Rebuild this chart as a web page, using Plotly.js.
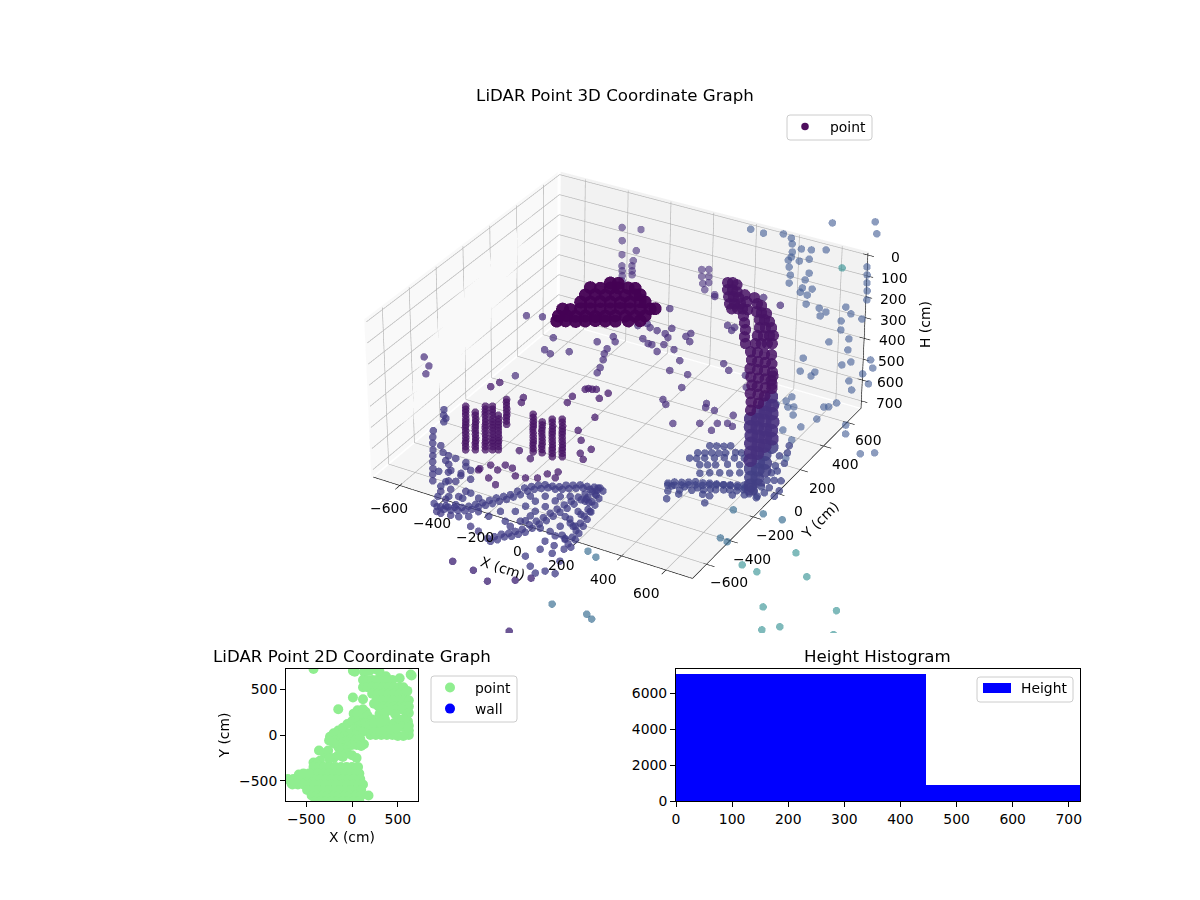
<!DOCTYPE html>
<html><head><meta charset="utf-8"><script src="https://cdn.plot.ly/plotly-3.0.1.min.js"></script>
<style>html,body{margin:0;background:#fff}</style></head><body><div id="g" style="width:1200px;height:900px"></div>
<script>
const F='DejaVu Sans';
// ---------- 3D point groups (X, Y, H in cm) ----------
const blobX=[-146,-119,-197,-163,-129,-102,-68,-45,-191,-157,-123,-89,-55,-22,-5,-184,-151,-117,-83,-49,-16,18,35,-222,-195,-161,-128,-94,-60,-26,7,41,75,92,-213,-186,-155,-122,-88,-54,-20,14,47,81,-202,-172,-138,-105,-71,-37,-3,41,81];
const blobY=[184,201,110,131,152,169,190,205,56,77,98,119,140,161,172,2,23,44,65,86,107,128,139,-80,-64,-42,-21,0,21,42,63,84,105,116,-133,-116,-97,-76,-55,-34,-13,8,30,51,-168,-149,-128,-107,-86,-65,-44,-16,9];
const blobH=[100,102,98,101,100,99,100,102,100,98,101,100,103,100,99,100,101,98,100,102,100,99,101,100,102,99,100,101,100,98,100,103,100,99,100,98,101,100,102,100,99,100,101,100,100,99,102,100,98,100,101,100,99];
const upperX=[-220,-149,-197,-109,-158,-100,-135,-118,-101,-85,-101,-84,-71,155,178,205,232,179,202,222,282];
const upperY=[425,452,382,336,307,293,263,232,201,169,284,253,228,395,351,309,275,410,366,328,265];
const upperH=[0,0,30,20,40,40,60,60,60,60,60,60,60,50,50,50,50,50,50,50,50];
const midX=[-460,-402,-296,-286,-253,-196,-134,-96,-73,-77,-70,-54,-38,-31,-299,-124,3,33,76,70,93,150,157,180,11,45,62,102,102,153,209,208,282,305,281,307,442,452,492,-49,-24,-1,116,285,368,255,286,286,368,408,481,524,394,485,572,579,545,548,606,-671,-625,-609];
const midY=[63,90,-18,-112,-125,-72,49,115,87,26,-11,-51,-107,-145,-336,422,410,245,290,243,224,269,298,245,165,145,146,114,172,162,105,22,34,-59,-174,-199,-107,-134,-134,236,268,249,580,677,663,426,403,428,179,147,151,78,-303,-246,-125,-187,-209,-265,-196,-411,-457,-513];
const midH=[300,300,300,300,300,300,300,300,300,300,300,300,300,300,300,300,300,300,300,300,300,300,300,300,300,300,300,300,300,300,300,300,300,300,300,300,300,300,300,300,300,300,300,300,300,300,300,300,300,300,300,300,300,300,300,300,300,300,300,300,300,300];
const colX=[-312,-314,-311,-313,-312,-310,-313,-312,-279,-281,-278,-280,-279,-277,-280,-245,-247,-244,-246,-245,-243,-246,-245,-221,-223,-220,-222,-221,-219,-222,-221,-201,-203,-200,-202,-201,-199,-216,-218,-215,-217,-216,-76,-78,-75,-77,-76,-74,-77,-43,-45,-42,-44,-43,-41,5,3,6,4,5,7,4,39,37,40,38,39,41,38,
 -313,-311,-312,-314,-311,-313,-312,-280,-278,-279,-281,-278,-280,-246,-244,-245,-247,-244,-246,-245,-222,-220,-221,-223,-220,-222,-221,-202,-200,-201,-203,-200,-202,-217,-215,-216,-218,-77,-75,-76,-78,-75,-77,-44,-42,-43,-45,-42,4,6,5,3,6,4,38,40,39,37,40,38];
const colY=[-736,-734,-737,-735,-736,-738,-735,-736,-715,-713,-716,-714,-715,-717,-714,-694,-692,-695,-693,-694,-696,-693,-694,-679,-677,-680,-678,-679,-681,-678,-679,-666,-664,-667,-665,-666,-668,-568,-566,-569,-567,-568,-606,-604,-607,-605,-606,-608,-605,-593,-591,-594,-592,-593,-595,-596,-594,-597,-595,-596,-598,-595,-575,-573,-576,-574,-575,-577,-574,
 -735,-737,-736,-734,-737,-735,-736,-714,-716,-715,-713,-716,-714,-693,-695,-694,-692,-695,-693,-694,-678,-680,-679,-677,-680,-678,-679,-665,-667,-666,-664,-667,-665,-567,-569,-568,-566,-605,-607,-606,-604,-607,-605,-592,-594,-593,-591,-594,-595,-597,-596,-594,-597,-595,-574,-576,-575,-573,-576,-574];
const colH=[430,400,370,340,310,280,250,220,430,400,370,340,310,280,250,430,400,370,340,310,280,250,220,430,400,370,340,310,280,250,220,430,400,370,340,310,280,370,340,310,280,250,430,400,370,340,310,280,250,430,400,370,340,310,280,430,400,370,340,310,280,250,430,400,370,340,310,280,250,
 415,385,355,325,295,265,235,415,385,355,325,295,265,415,385,355,325,295,265,235,415,385,355,325,295,265,235,415,385,355,325,295,265,355,325,295,265,415,385,355,325,295,265,415,385,355,325,295,415,385,355,325,295,265,415,385,355,325,295,265];
const nearX=[-267,-227,-217,-183,-147,-106,-65,-45,-5,-15,-231,-292,-485,-468,-338,-328,-175,-172,-155,-147,-131,-117,-77,-64,-29,-43,0,64,40,70,-176,-112,-251,-144];
const nearY=[-608,-624,-577,-581,-624,-615,-590,-544,-552,-509,-693,-664,-195,-150,-194,-230,-84,-133,-13,-1,2,10,-40,11,-168,-285,-341,-376,-424,-456,-535,-562,-731,-799];
const nearH=[560,560,560,560,560,560,560,560,560,560,560,560,500,500,500,500,500,500,500,500,500,500,500,500,500,500,500,500,500,500,500,500,500,500];
const leftX=[-494,-496,-493,-495,-494,-492,-495,-494,-493,-396,-398,-395,-440,-442,-439,-441,-446,-403,-419,-428,-437,-443,-385,-361,-368,-393,-373,-333,-229,-186,-462,-435,-387,-345,-412,-361,-528,-498,-601];
const leftY=[-672,-670,-673,-671,-672,-674,-671,-672,-670,-763,-761,-764,-639,-637,-640,-638,-695,-734,-661,-601,-539,-486,-556,-642,-689,-829,-833,-824,-851,-865,-622,-588,-592,-631,-673,-684,-539,-577,-358];
const leftH=[680,650,620,590,560,530,500,470,440,310,280,250,680,640,600,560,700,700,700,700,700,700,700,700,700,700,700,700,700,700,600,600,600,600,600,600,600,600,600];
const floorAX=[-429,-396,-369,-346,-322,-301,-285,-268,-251,-234,-216,-200,-186,-172,-155,-135,-112,-84,-60,-41,-17,7,34,61,84,-132,-115,-98,-77,-61,-44,-33,-23,-12,-2,8,19,29,40,53,67,77,94,103,113,123,133,142,152,161,164,73,86,99,111,117,-94,-77,-59,14,57,75,85,-25,-42,-92,-109,-127,56,106,146,172,213,190,137,83,
 -409,-376,-349,-326,-302,-281,-265,-248,-231,-214,-196,-180,-166,-152,-135,-115,-92,-64,-40,-21,3,27,54,81,104,-112,-95,-78,-57,-41,-24,-13,-3,8,18,28,39,49,60,73,87,114,123,133,143,153,162,172,181,93,106,119,131,
 -519,-462,-462,-402,-352,-349,-338,-295,-252,-201,-268,-302,-379,-439,-177,59,126,91,73,134,-59,-60,-128,126,76,10,-24,-75,-125];
const floorAY=[-784,-789,-780,-765,-750,-730,-703,-675,-648,-621,-594,-566,-532,-498,-472,-451,-436,-427,-413,-392,-377,-362,-354,-345,-338,-890,-863,-836,-814,-787,-760,-720,-680,-640,-601,-561,-521,-481,-442,-408,-374,-342,-391,-443,-496,-548,-600,-653,-704,-757,-797,-437,-530,-622,-713,-793,-767,-714,-662,-716,-714,-662,-597,-515,-567,-557,-609,-662,-922,-975,-1008,-974,-966,-881,-847,-848,
 -797,-802,-793,-778,-763,-743,-716,-688,-661,-634,-607,-579,-545,-511,-485,-464,-449,-440,-426,-405,-390,-375,-367,-358,-351,-903,-876,-849,-827,-800,-773,-733,-693,-653,-614,-574,-534,-494,-455,-421,-387,-404,-456,-509,-561,-613,-666,-717,-770,-450,-543,-635,-726,
 -574,-622,-664,-710,-745,-692,-644,-658,-740,-750,-793,-814,-778,-733,-694,-588,-630,-734,-787,-732,-620,-703,-746,-504,-452,-453,-474,-505,-537];
const floorAH=[700,702,698,700,701,699,700,703,700,698,700,702,700,699,701,700,698,700,702,700,700,699,701,700,700,700,702,699,700,701,700,698,700,702,700,700,699,701,700,700,702,700,700,699,701,700,700,702,700,698,700,700,701,699,700,702,700,700,698,700,701,700,700,699,702,700,700,701,700,700,699,700,702,700,701,700,
 701,700,699,700,702,700,698,700,701,700,700,699,702,700,700,701,698,700,700,702,700,699,700,701,700,700,702,698,700,701,700,700,699,702,700,700,701,700,698,700,700,702,700,699,701,700,700,698,700,702,700,700,701,
 700,702,698,700,701,700,699,700,702,700,700,701,698,700,700,702,700,699,700,701,700,698,700,702,700,700,701,700,699];
const floorBX=[298,317,341,365,388,416,439,466,493,520,547,574,600,321,368,415,462,510,557,610,644,658,658,652,597,556,317,341,365,388,300,324,347,371,394,428,448,289,313,340,373,407,441,475,346,373,400,440,481,373,406,440,474,508,324,346,371,452,489,482,647,629,675,630,604,702,702,587,587,
 304,327,351,375,398,422,445,469,493,516,540,564,361,402,442,483,530,577,617,628,628,616,606];
const floorBY=[-164,-143,-128,-114,-99,-90,-75,-67,-59,-50,-41,-33,-25,-174,-153,-132,-111,-90,-68,-60,-56,-22,20,74,-77,-102,157,171,186,201,87,102,117,132,146,167,180,38,53,70,91,112,133,154,17,33,50,76,101,-33,-12,9,30,51,-214,-266,-210,-159,-211,-157,-70,143,88,202,277,22,-20,325,241,
 -177,-162,-147,-133,-118,-103,-88,-74,-59,-44,-29,-15,-183,-157,-132,-107,-77,-48,-31,9,59,118,170];
const floorBH=[700,700,702,700,699,700,701,700,700,698,700,700,702,700,699,700,701,700,700,700,702,700,700,698,700,701,700,700,702,700,699,700,700,701,700,698,700,700,702,700,700,699,700,701,700,700,700,698,700,702,700,700,701,700,700,699,700,702,700,700,700,701,700,698,700,700,702,700,700,
 700,701,700,699,700,702,700,700,698,700,701,700,700,702,700,699,700,700,701,700,698,700,700];
const wallTopX=[252,269,290,275,292,313,302,318,339,328,345,365,352,372,389,350,379,409,415,442,468,488,514,393,422,443,446,466,486,482,499,523,509,529,550,528,549,569,582,548,568,588,605,600,603,598,601,604,599,602,600,598,602,600,603,599,601,604,600,602,599,601,603,600,598,601,603,599,600,602,604];
const wallTopY=[433,443,439,389,399,395,347,357,362,305,315,328,278,291,301,393,354,306,259,217,176,129,89,395,364,360,312,316,321,268,279,276,218,231,243,164,176,189,198,110,122,135,145,-30,-28,-32,-30,-27,-31,-29,-30,32,28,30,31,29,33,30,88,91,90,92,89,90,152,149,150,148,151,150,153];
const wallTopH=[100,100,100,100,100,100,100,100,100,100,100,100,100,100,100,100,100,100,100,100,100,100,100,100,100,100,100,100,100,100,100,100,100,100,100,100,100,100,100,100,100,100,100,40,80,120,160,200,240,280,320,80,120,160,200,240,280,320,120,160,200,240,280,320,160,200,240,280,320,300,260];
const wallMidX=[601,599,603,600,602,598,603,600,598,601,604,599,600,602,599,603,601,600,598,602,600,603,599,601];
const wallMidY=[-31,-29,-30,-28,-32,-30,29,31,30,32,28,30,89,91,90,88,92,90,151,149,150,152,148,150];
const wallMidH=[360,400,440,480,520,560,360,400,440,480,520,560,360,400,440,480,520,560,360,400,440,480,520,560];
const wallLowX=[600,602,599,601,603,600,598,601,600,602,599,600];
const wallLowY=[-30,-31,-29,-30,30,31,29,32,90,89,91,150];
const wallLowH=[600,640,680,700,600,640,680,715,600,640,680,600];
const rightX=[243,300,370,411,433,481,460,473,518,568,500,642,687,763,790,816,843,872,514,473,541,499,530,552,587,596,650,613,620,653,679,737,773,766,824,864,918,854,883,940,882,973,848,1002,1023,1083,1117,881,934,934,1079,1102,1155,1118,908,932,938,958,978,1002,1080,1096,1110,1096,1068,1017,1080,1120,1214,1243,1359,1404];
const rightY=[646,648,685,676,641,629,591,557,644,675,857,954,883,655,605,555,505,448,549,532,582,490,442,390,494,443,401,387,356,353,294,296,286,249,359,327,318,262,205,166,105,95,-50,-12,26,80,34,-138,-113,-146,-97,-24,-74,-148,-395,-355,-317,-389,-376,-428,-313,-302,-261,-403,-486,-543,-587,-713,-380,-436,-529,-493];
const rightH=[-30,-30,-30,-30,-30,-30,-30,-30,-30,-30,-30,-30,-30,-30,-30,-30,-30,-30,-30,-30,-30,-30,-30,-30,-30,-30,-30,-30,-30,-30,-30,-30,-30,-30,-30,-30,-30,-30,-30,-30,-30,-30,-30,-30,-30,-30,-30,-30,-30,-30,-30,-30,-30,-30,-30,-30,-30,-30,-30,-30,-30,-30,-30,-30,-30,-30,-30,-30,-30,-30,-30,-30];
const blueX=[609,724,658,694,808,252,299,305,456,489];
const blueY=[-194,-156,-397,-407,-153,-759,-780,-1166,-1156,-1176];
const blueH=[700,700,700,700,700,700,700,700,700,700];
const tealX=[964,821,894,1080,1031,1293,1103,1154,1362,682];
const tealY=[-331,-520,-532,-458,-739,-608,-885,-828,-764,596];
const tealH=[700,700,700,700,700,700,700,700,700,-30];
const strayX=[-174,-74,10,101,148,249];
const strayY=[-1108,-1120,-1159,-1094,-1048,-1426];
const strayH=[700,700,700,700,700,700];
// ---------- 2D scatter ----------
const pX=[-420,10,30,130,190,250,300,370,520,640,650,120,170,220,270,320,380,440,120,170,220,280,340,400,460,520,560,220,280,340,400,460,520,580,604,270,330,390,450,510,570,620,290,340,400,460,520,580,620,10,120,-150,18,60,120,150,300,360,420,480,540,620,590,610,620,620,620,220,280,340,400,460,520,570,200,260,320,380,440,500,560,250,310,370,430,490,550,610,-240,-200,-150,-100,-50,0,50,100,150,130,80,30,-30,-80,-130,-190,80,40,130,180,-10,-70,-120,40,90,130,100,50,0,-50,-100,-150,-200,-250,-360,-300,-260,-50,0,50,-100,-150,-200,-250,-420,-350,-380,-420,-360,-300,-240,-180,-120,-60,0,66,-430,-370,-310,-250,-190,-130,-70,-10,50,80,-580,-700,-640,-580,-520,-460,-400,-340,-280,-220,-160,-100,-40,20,90,-650,-590,-530,-470,-410,-350,-290,-230,-170,-110,-50,10,70,120,-490,-430,-370,-310,-250,-190,-130,-70,-10,50,100,-440,-380,-320,-260,-200,-140,-80,-20,40,100,180,-400,-340,-280,-220,-160,-100,-40,20,80,60,110,170,220,150,190,240,-530,-470,-610,-660,240,360,470,300];
const pY=[720,700,690,690,700,720,690,640,620,660,650,600,600,600,600,600,600,600,520,520,520,520,520,520,520,520,520,450,450,450,450,450,450,450,481,380,380,380,380,380,380,380,310,310,310,310,310,310,310,410,390,280,233,270,280,250,230,240,270,280,280,240,200,150,100,50,0,60,70,90,110,130,170,170,0,0,0,0,0,-10,-10,40,40,50,60,70,90,80,-20,20,50,80,120,150,180,200,180,130,100,60,20,-10,-40,-60,40,0,40,50,-40,-70,-100,-50,-40,-100,-120,-110,-110,-130,-150,-130,-90,-60,-170,-200,-170,-200,-220,-250,-240,-220,-250,-260,-300,-280,-320,-350,-350,-350,-350,-350,-350,-350,-350,-350,-420,-420,-420,-420,-420,-420,-420,-420,-420,-420,-430,-480,-480,-490,-490,-480,-480,-480,-480,-480,-480,-480,-480,-480,-480,-540,-540,-540,-540,-540,-540,-540,-540,-540,-540,-540,-540,-540,-540,-600,-600,-600,-600,-600,-600,-600,-600,-600,-600,-600,-660,-660,-660,-660,-660,-660,-660,-660,-660,-660,-660,-720,-720,-720,-720,-720,-720,-720,-720,-720,230,230,210,170,130,110,130,-420,-420,-530,-530,340,170,230,140];
// ---------- histogram ----------
const histEdges=[0,445,720];
const histCounts=[7050,870];
// ---------- tick labels ----------
const xyTicks=[-600,-400,-200,0,200,400,600];
const hTicks=[0,100,200,300,400,500,600,700];
const lbl=v=>String(v).replace('-','\u2212');
// 3D box outline, floor and ceiling corners (front-left, front-right, back-right, back-left), in cm
const floorCx=[-736,684,693,-621], floorCy=[-722,-684,737,641];
const ceilCx=[-783,684,700,-613], ceilCy=[-693,-684,783,636];
const bil=(c,u,v)=>c[0]*(1-u)*(1-v)+c[1]*u*(1-v)+c[2]*u*v+c[3]*(1-u)*v;
const P=(u,v,w)=>[bil(ceilCx,u,v)*(1-w)+bil(floorCx,u,v)*w,bil(ceilCy,u,v)*(1-w)+bil(floorCy,u,v)*w,720*w];
const fx=v=>(v+720)/1440, fh=h=>(h+10)/745;
function segs(list,color,width){const x=[],y=[],z=[];list.forEach(s=>{const a=P(...s[0]),b=P(...s[1]);x.push(a[0],b[0],null);y.push(a[1],b[1],null);z.push(a[2],b[2],null)});
 return {type:'scatter3d',mode:'lines',x,y,z,line:{color,width},showlegend:false,hoverinfo:'skip'}}
function pane(c,color){const q=c.map(s=>P(...s));return {type:'mesh3d',x:q.map(p=>p[0]),y:q.map(p=>p[1]),z:q.map(p=>p[2]),i:[0,0],j:[1,2],k:[2,3],color,flatshading:true,lighting:{ambient:1,diffuse:0,specular:0,fresnel:0,roughness:1},hoverinfo:'skip',showlegend:false}}
const gridL=[];
xyTicks.forEach(t=>{const u=fx(t);
 gridL.push([[u,0,1],[u,1,1]],[[u,1,1],[u,1,0]],[[0,u,1],[1,u,1]],[[0,u,1],[0,u,0]]);});
hTicks.forEach(t=>{const w=fh(t);gridL.push([[0,0,w],[0,1,w]],[[0,1,w],[1,1,w]]);});
const axisL=[[[0,0,1],[1,0,1]],[[1,0,1],[1,1,1]],[[1,1,1],[1,1,0]]];
xyTicks.forEach(t=>{const u=fx(t);axisL.push([[u,-.025,1],[u,.012,1]],[[.988,u,1],[1.025,u,1]]);});
hTicks.forEach(t=>{const w=fh(t);axisL.push([[.985,1,w],[1.02,1,w]]);});
const e=.006;
const T=(x,y,z,color,size,opacity,extra)=>Object.assign({type:'scatter3d',mode:'markers',x,y,z,marker:{size,color,opacity,line:{width:0}},showlegend:false,hoverinfo:'skip'},extra||{});
const data=[
 pane([[-e,0,1+e],[-e,1,1+e],[-e,1,0],[-e,0,0]],'#f9f9f9'),
 pane([[0,1+e,1+e],[1,1+e,1+e],[1,1+e,0],[0,1+e,0]],'#f2f2f2'),
 pane([[0,0,1+e],[1,0,1+e],[1,1,1+e],[0,1,1+e]],'#f5f5f5'),
 segs(gridL,'#b4b4b4',1.3), segs(axisL,'#000',1.2),
 T(rightX,rightY,rightH,'#3f5a93',4.4,.6),
 T(tealX,tealY,tealH,'#2a8c8e',4.4,.6),
 T(blueX,blueY,blueH,'#31688e',4.4,.65),
 T(strayX,strayY,strayH,'#472c7a',4.4,.8),
 T(midX,midY,midH,'#472d7b',4.4,.7),
 T(upperX,upperY,upperH,'#472d7b',4.4,.6),
 T(nearX,nearY,nearH,'#481b6d',4.4,.75),
 T(leftX,leftY,leftH,'#423a84',4.4,.75),
 T(floorAX,floorAY,floorAH,'#3f3b85',4.4,.75),
 T(floorBX,floorBY,floorBH,'#3e4287',4.4,.75),
 T(colX,colY,colH,'#471365',4.4,.75),
 T(wallLowX,wallLowY,wallLowH,'#423f85',8,.85),
 T(wallMidX,wallMidY,wallMidH,'#46307e',8,.9),
 T(wallTopX,wallTopY,wallTopH,'#471365',6.6,.85),
 T(blobX,blobY,blobH,'#440154',7.5,.95,{name:'point',showlegend:true,legend:'legend'}),
 {type:'scatter',xaxis:'x',yaxis:'y',mode:'markers',name:'point',x:pX,y:pY,marker:{color:'#90ee90',size:10},legend:'legend2',hoverinfo:'skip'},
 {type:'scatter',xaxis:'x',yaxis:'y',mode:'markers',name:'wall',x:[null],y:[null],marker:{color:'#0000ff',size:10},legend:'legend2',hoverinfo:'skip'},
 {type:'bar',xaxis:'x2',yaxis:'y2',name:'Height',x:histCounts.map((c,i)=>(histEdges[i]+histEdges[i+1])/2),y:histCounts,width:histCounts.map((c,i)=>histEdges[i+1]-histEdges[i]),marker:{color:'#0000ff',line:{width:0}},legend:'legend3',hoverinfo:'skip'}
];
const el=36*Math.PI/180, az=-60.2*Math.PI/180, R=1.47, L=3, S=1.345;
const cam={eye:{x:R*Math.cos(el)*Math.cos(az),y:R*Math.cos(el)*Math.sin(az),z:R*Math.sin(el)},center:{x:0,y:0,z:0},up:{x:0,y:0,z:1},projection:{type:'orthographic'}};
const hid=r=>({visible:false,range:r,autorange:false});
const tf={family:F,size:13.9,color:'#000'};
const sceneAnn=[];
const xLabelShift=[-11,-12,-14,-15,-16,-18,-19];
xyTicks.forEach((t,i)=>{const a=P(fx(t),0,1);sceneAnn.push({x:a[0],y:a[1],z:a[2],text:lbl(t),showarrow:false,xshift:xLabelShift[i],yshift:-23,font:tf});
 const b=P(1,fx(t),1);sceneAnn.push({x:b[0],y:b[1],z:b[2],text:lbl(t),showarrow:false,xshift:22,yshift:-18,font:tf,xanchor:'center'});});
hTicks.forEach(t=>{const a=P(1,1,fh(t));sceneAnn.push({x:a[0],y:a[1],z:a[2],text:lbl(t),showarrow:false,xshift:28,yshift:-2,font:tf,xanchor:'center'});});
const ann=(x,y,text,angle,font)=>({xref:'paper',yref:'paper',x:x/1200,y:1-y/900,text,showarrow:false,textangle:angle||0,font:font||tf,xanchor:'center',yanchor:'middle'});
const ttl={family:F,size:16.67,color:'#000'};
const box2=(dom,r,tv,title,anchor)=>({domain:dom,range:r,autorange:false,tickvals:tv,ticktext:tv.map(lbl),title:{text:title,font:tf,standoff:6},showline:true,mirror:true,linecolor:'#000',linewidth:1,ticks:'outside',ticklen:5,tickcolor:'#000',tickwidth:1,showgrid:false,zeroline:false,tickfont:tf,anchor});
const leg=(x,y,w)=>({x:x/1200,y:1-y/900,xanchor:'left',yanchor:'top',bgcolor:'rgba(0,0,0,0)',borderwidth:0,font:tf,itemwidth:w,itemclick:false,itemdoubleclick:false});
// rounded legend frames and the histogram legend swatch, in page pixels
const frame=(x0,y0,x1,y1)=>{const X=v=>v/1200,Y=v=>1-v/900,r=3;return {type:'path',xref:'paper',yref:'paper',layer:'above',line:{color:'#cccccc',width:1},fillcolor:'rgba(255,255,255,.8)',
 path:`M${X(x0+r)},${Y(y0)}L${X(x1-r)},${Y(y0)}Q${X(x1)},${Y(y0)} ${X(x1)},${Y(y0+r)}L${X(x1)},${Y(y1-r)}Q${X(x1)},${Y(y1)} ${X(x1-r)},${Y(y1)}L${X(x0+r)},${Y(y1)}Q${X(x0)},${Y(y1)} ${X(x0)},${Y(y1-r)}L${X(x0)},${Y(y0+r)}Q${X(x0)},${Y(y0)} ${X(x0+r)},${Y(y0)}Z`}};
const layout={width:1200,height:900,margin:{l:0,r:0,t:0,b:0},paper_bgcolor:'#fff',plot_bgcolor:'#fff',font:{family:F,size:13.9,color:'#000'},
 title:{text:'LiDAR Point 3D Coordinate Graph',x:615/1200,xanchor:'center',y:1-95/900,yanchor:'middle',font:ttl},
 scene:{domain:{x:[358/1200,884/1200],y:[267/900,793/900]},camera:cam,aspectmode:'manual',aspectratio:{x:1.04*L*S,y:.96*L*S,z:.525*L*S},
  xaxis:hid([-720*L,720*L]),yaxis:hid([-720*L,720*L]),zaxis:hid([360+360*L,360-360*L]),annotations:sceneAnn},
 xaxis:box2([286/1200,418/1200],[-720,720],[-500,0,500],'X (cm)','y'),
 yaxis:box2([99/900,231/900],[-720,720],[-500,0,500],'Y (cm)','x'),
 xaxis2:box2([676/1200,1080/1200],[0,720],[0,100,200,300,400,500,600,700],'','y2'),
 yaxis2:box2([99/900,231/900],[0,7333],[0,2000,4000,6000],'','x2'),
 legend:leg(780,111,40),legend2:leg(425,672,40),legend3:leg(977,672,34),
 shapes:[frame(787,115,872,140),frame(431,676,517,722),frame(977,677,1073,702),
  {type:'rect',xref:'paper',yref:'paper',x0:983/1200,x1:1011/1200,y0:1-683/900,y1:1-693/900,fillcolor:'#0000ff',line:{width:0},layer:'above'}],
 annotations:[ann(503,568,'X (cm)',18),ann(820,520,'Y (cm)',-45),ann(925,325,'H (cm)',-90),ann(352,656,'LiDAR Point 2D Coordinate Graph',0,ttl),ann(877,656,'Height Histogram',0,ttl)],
 bargap:0,showlegend:true
};
Plotly.newPlot('g',data,layout,{displayModeBar:false}).then(gd=>{
 gd.querySelectorAll('.legend3 .legendpoints path').forEach(n=>{n.style.display='none'});
});
</script></body></html>
